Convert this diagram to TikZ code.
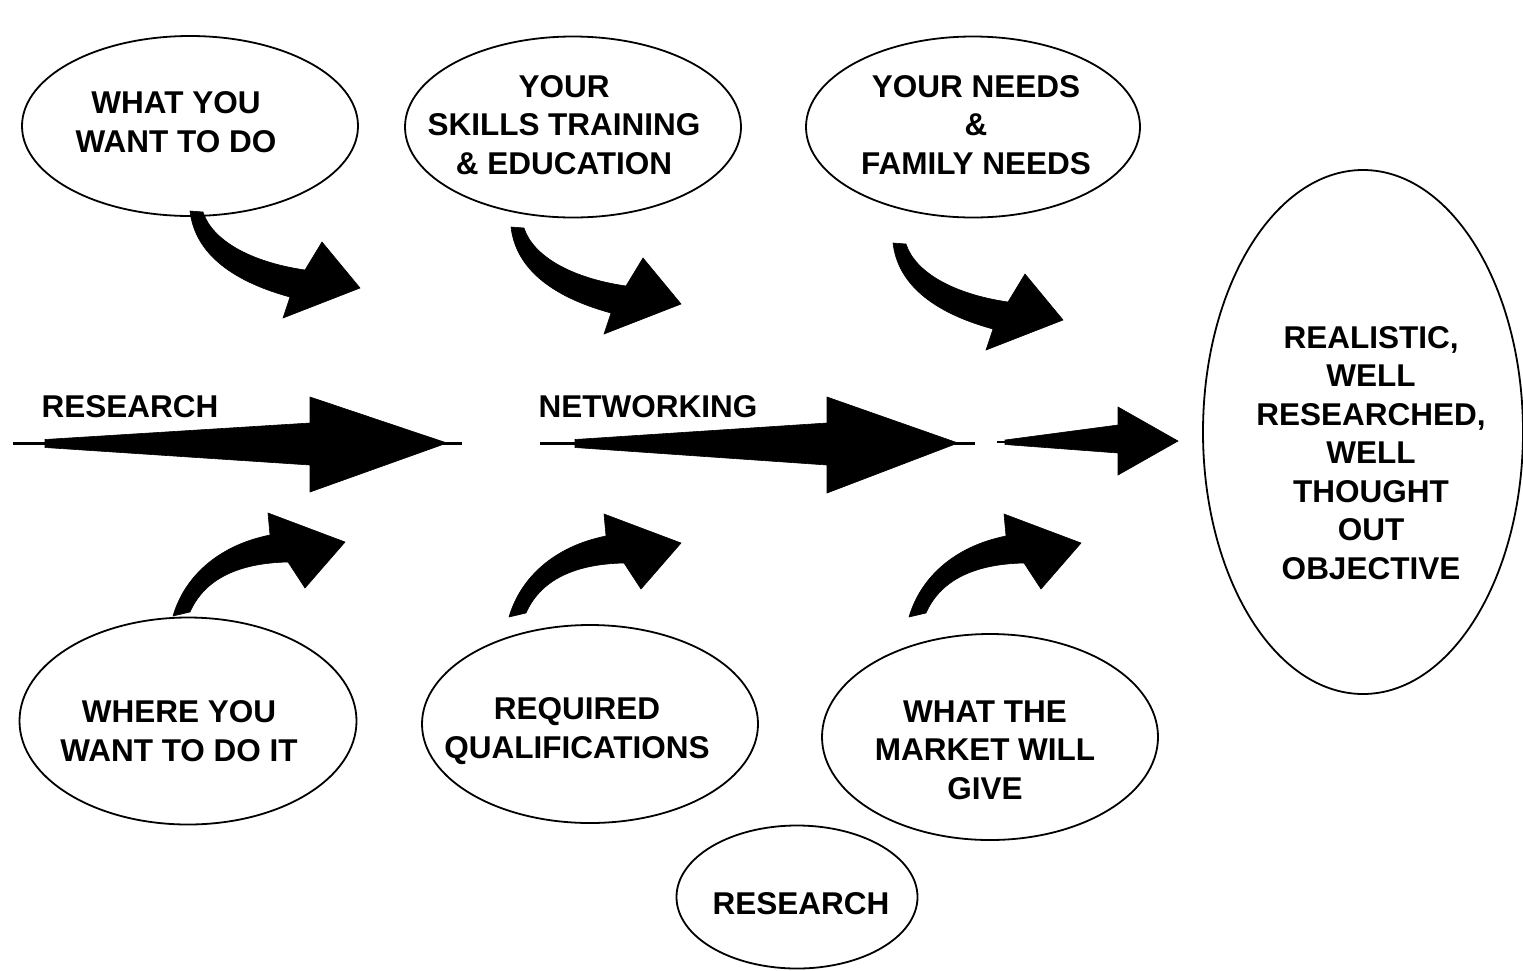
\documentclass[tikz,border=0pt]{standalone}
\usepackage{fontspec}
\setmainfont{Liberation Sans}
\usetikzlibrary{shapes.geometric}
\tikzset{
  bubble/.style={ellipse, draw=black, line width=1.8pt, inner sep=0pt, fill=white},
  lbl/.style={font=\bfseries\fontsize{31.5}{38.5}\selectfont, align=center, inner sep=0pt, text=black},
  blk/.style={fill=black, draw=black, line width=0.6pt, line join=miter}
}
\newcommand{\downarrowshape}{%
  \fill[blk] (190,211) -- (203,212) .. controls (212,240) and (250,262) .. (305,270)
    -- (322,242) -- (360,288) -- (283,318) -- (290,297)
    .. controls (235,282) and (195,255) .. cycle;}
\newcommand{\uparrowshape}{%
  \fill[blk] (173,616) .. controls (185,575) and (220,545) .. (270,535)
    -- (268,513) -- (345,542) -- (305,588) -- (288,562)
    .. controls (240,563) and (205,578) .. (190,612) -- cycle;}
\begin{document}
\begin{tikzpicture}[x=1pt,y=-1pt]
\useasboundingbox[fill=white] (0,0) rectangle (1523,970);

% ellipses
\node[bubble, minimum width=336pt, minimum height=180pt] (e1) at (190,126) {};
\node[bubble, minimum width=336pt, minimum height=181pt] (e2) at (573,127) {};
\node[bubble, minimum width=334pt, minimum height=181pt] (e3) at (973,127) {};
\node[bubble, minimum width=320pt, minimum height=524pt] (e4) at (1363,432) {};
\node[bubble, minimum width=337pt, minimum height=207pt] (e5) at (188,721) {};
\node[bubble, minimum width=336pt, minimum height=198pt] (e6) at (590,724) {};
\node[bubble, minimum width=336pt, minimum height=206pt] (e7) at (990,737) {};
\node[bubble, minimum width=241pt, minimum height=143pt] (e8) at (797,897) {};

% texts
\node[lbl] (t1) at (176,122) {WHAT YOU\\WANT TO DO};
\node[lbl] (t2) at (564,125) {YOUR\\SKILLS TRAINING\\\& EDUCATION};
\node[lbl] (t3) at (976,125) {YOUR NEEDS\\\&\\FAMILY NEEDS};
\node[lbl] (t4) at (1371,453) {REALISTIC,\\WELL\\RESEARCHED,\\WELL\\THOUGHT\\OUT\\OBJECTIVE};
\node[lbl] (t5) at (179,731) {WHERE YOU\\WANT TO DO IT};
\node[lbl] (t6) at (577,731) {REQUIRED\\QUALIFICATIONS};
\node[lbl] (t7) at (985,750) {WHAT THE\\MARKET WILL\\GIVE};
\node[lbl] (t8) at (801,904) {RESEARCH};
\node[lbl] (l1) at (130,407) {RESEARCH};
\node[lbl] (l2) at (648,407) {NETWORKING};

% horizontal block arrows
\draw[line width=3pt] (13,443) -- (462,443);
\fill[blk] (45,439.5) -- (310,423) -- (310,397) -- (447,443) -- (310,492) -- (310,465) -- (45,447.5) -- cycle;
\draw[line width=3pt] (540,443) -- (975,443);
\fill[blk] (575,439.5) -- (827,423) -- (827,397) -- (958,443) -- (827,493) -- (827,465) -- (575,447.5) -- cycle;
\draw[line width=2.5pt] (997,442) -- (1012,442);
\fill[blk] (1005,440) -- (1118,425) -- (1118,407) -- (1178,441) -- (1118,475) -- (1118,453) -- (1005,444.5) -- cycle;

% curved arrows, top row
\downarrowshape
\begin{scope}[shift={(321,16)}]\downarrowshape\end{scope}
\begin{scope}[shift={(703,32)}]\downarrowshape\end{scope}

% curved arrows, bottom row
\uparrowshape
\begin{scope}[shift={(336,1)}]\uparrowshape\end{scope}
\begin{scope}[shift={(736,1)}]\uparrowshape\end{scope}
\end{tikzpicture}
\end{document}
